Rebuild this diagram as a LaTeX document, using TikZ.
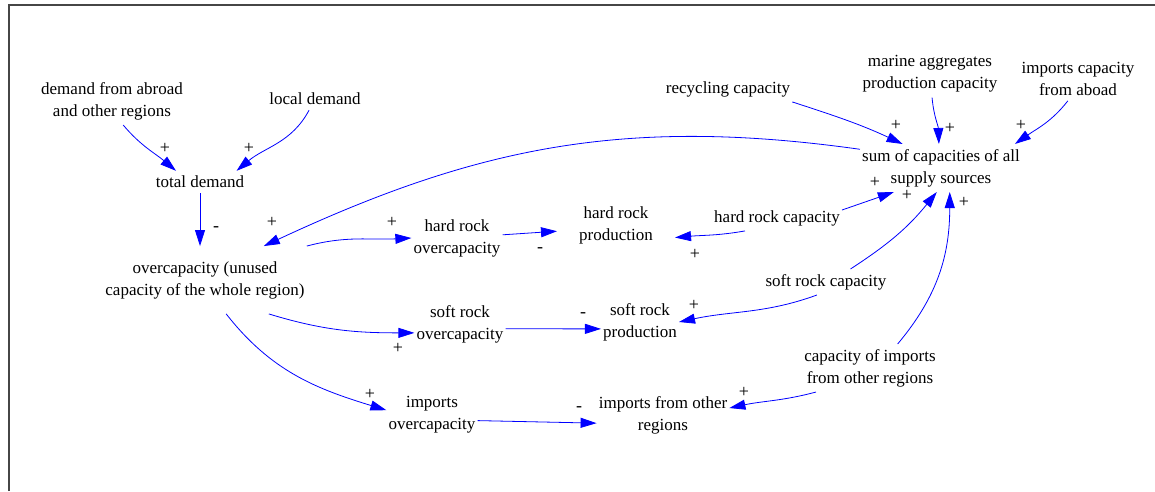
\documentclass[tikz,border=0pt]{standalone}
\usepackage{fontspec}
\setmainfont{Liberation Serif}
\usepackage{tikz}
\usetikzlibrary{arrows.meta}
\definecolor{CldLinkColor}{RGB}{0,0,255}
\definecolor{CldFrameColor}{RGB}{70,70,70}

\begin{document}
\begin{tikzpicture}[x=1pt,y=1pt,
  var/.style={align=center,font=\fontsize{17}{22}\selectfont,inner xsep=2pt,inner ysep=5pt},
  lnk/.style={CldLinkColor,line width=0.8pt,-{Triangle[length=16pt,width=10pt]}},
  sgn/.style={font=\fontsize{18}{18}\selectfont,inner sep=0pt}]
\useasboundingbox (0,0) rectangle (1155,491);
\draw[CldFrameColor,line width=1.5pt] (9,0) -- (9,486) -- (1155,486);
% variables
\node[var] (dab) at (112,390) {demand from abroad\\and other regions};
\node[var] (ld) at (315,392) {local demand};
\node[var] (td) at (200,309) {total demand};
\node[var,inner ysep=15pt] (oc) at (205,211) {overcapacity (unused\\capacity of the whole region)};
\node[var] (hro) at (457,253) {hard rock\\overcapacity};
\node[var,inner xsep=22pt] (hrp) at (616,266) {hard rock\\production};
\node[var] (hrc) at (777,273) {hard rock capacity};
\node[var] (sro) at (460,167) {soft rock\\overcapacity};
\node[var] (srp) at (640,169) {soft rock\\production};
\node[var] (src) at (826,209) {soft rock capacity};
\node[var] (io) at (432,76) {imports\\overcapacity};
\node[var] (ior) at (663,76) {imports from other\\regions};
\node[var] (cio) at (870,123) {capacity of imports\\from other regions};
\node[var] (rc) at (728,402) {recycling capacity};
\node[var] (mapc) at (930,417) {marine aggregates\\production capacity};
\node[var] (ica) at (1078,412) {imports capacity\\from aboad};
\node[var] (sum) at (941,323) {sum of capacities of all\\supply sources};
% links
\draw[lnk] (dab.-65) to[out=-50,in=140] (td.155);
\draw[lnk] (ld.-118) to[out=-118,in=40] (td.17);
\draw[lnk] (td.south) -- (td.south |- oc.north);
\draw[lnk] (sum.167) to[out=172,in=25] (oc.30);
\draw[lnk] (oc.north east) to[out=15,in=-177] (hro.west);
\draw[lnk] (hro.4) -- (hrp.186);
\draw[lnk] (hrc.202) to[out=190,in=5] (hrp.-12);
\draw[lnk] (hrc.7) -- (sum.207);
\draw[lnk] (src.28) to[out=33,in=231] (sum.260);
\draw[lnk] (cio.41) to[out=50,in=-90] (sum.-70);
\draw[lnk] (oc.-28) to[out=-17,in=180] (sro.191);
\draw[lnk] (sro.-6) -- (srp.190);
\draw[lnk] (src.235) to[out=200,in=12] (srp.east);
\draw[lnk] (oc.-58) to[out=-52,in=163] (io.174);
\draw[lnk] (io.-7) -- (ior.187);
\draw[lnk] (cio.204) to[out=195,in=12] (ior.6);
\draw[lnk] (rc.south east) to[out=-18,in=155] (sum.148);
\draw[lnk] (mapc.-85) to[out=-85,in=92] (sum.95);
\draw[lnk] (ica.-115) to[out=-128,in=35] (sum.18);
% polarities
\foreach \x/\y/\s [count=\i] in %
{165/343/+,249/343/+,216/262/-,272/269/+,392/269/+,540/241/-,695/237/+,
 875/309/+,907/296/+,964/289/+,398/143/+,583/176/-,694/186/+,370/97/+,
 579/82/-,744/99/+,896/366/+,950/363/+,1021/366/+} {
   \node[sgn] (sg\i) at (\x,\y) {\s};
}
\end{tikzpicture}
\end{document}
